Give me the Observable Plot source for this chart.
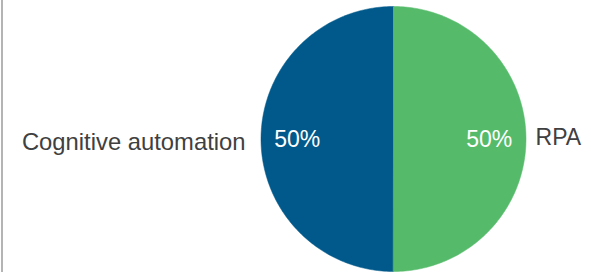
<!DOCTYPE html>
<html>
<head>
<meta charset="utf-8">
<script src="https://cdn.jsdelivr.net/npm/d3@7"></script>
<script src="https://cdn.jsdelivr.net/npm/@observablehq/plot@0.6"></script>
<style>
  html, body { margin: 0; padding: 0; background: #fff; }
  #wrap { position: relative; width: 591px; height: 272px; overflow: hidden; }
  #edge { position: absolute; left: 1px; top: 0; width: 2px; height: 272px; background: #b4b4b4; }
</style>
</head>
<body>
<div id="wrap"><div id="edge"></div></div>
<script>
const categories = ["Cognitive automation", "RPA"];
const shares = [50, 50];
const colors = ["#00598a", "#55bb6a"];

const data = categories.map((c, i) => ({category: c, value: shares[i]}));
const arcs = d3.pie().sort(null).value(d => d.value).startAngle(Math.PI).endAngle(3 * Math.PI)(data);

const pts = [];
for (const a of arcs) {
  pts.push({category: a.data.category, x: 0, y: 0});
  const n = 180;
  for (let k = 0; k <= n; k++) {
    const t = a.startAngle + (a.endAngle - a.startAngle) * k / n;
    pts.push({category: a.data.category, x: Math.sin(t), y: Math.cos(t)});
  }
}

const mids = arcs.map(a => {
  const m = (a.startAngle + a.endAngle) / 2;
  return {category: a.data.category, value: a.data.value, sx: Math.sin(m), sy: Math.cos(m)};
});
const leftMids = mids.filter(d => d.sx < 0);
const rightMids = mids.filter(d => d.sx >= 0);

const font = "'Liberation Sans', Arial, sans-serif";
const pct = d => `${d.value}%`;

const chart = Plot.plot({
  width: 591,
  height: 272,
  margin: 0,
  style: {fontFamily: font, background: "transparent", overflow: "visible"},
  x: {domain: [-1, 1], range: [260.5, 525.5], axis: null},
  y: {domain: [-1, 1], range: [271, 6], axis: null},
  color: {domain: categories, range: colors},
  marks: [
    Plot.line(pts, {x: "x", y: "y", z: "category", fill: "category", stroke: "category", strokeWidth: 0.5, curve: "linear-closed"}),
    Plot.text(leftMids, {x: d => d.sx * 0.9, y: "sy", text: pct, textAnchor: "start", fill: "white", fontSize: 23, dy: 1}),
    Plot.text(rightMids, {x: d => d.sx * 0.896, y: "sy", text: pct, textAnchor: "end", fill: "white", fontSize: 23, dy: 1}),
    Plot.text(leftMids, {x: d => d.sx * 1.117, y: "sy", text: "category", textAnchor: "end", fill: "#404040", fontSize: 23.8, dy: 3}),
    Plot.text(rightMids, {x: d => d.sx * 1.072, y: "sy", text: "category", textAnchor: "start", fill: "#404040", fontSize: 23, dy: -1})
  ]
});
document.getElementById("wrap").appendChild(chart);
</script>
</body>
</html>
